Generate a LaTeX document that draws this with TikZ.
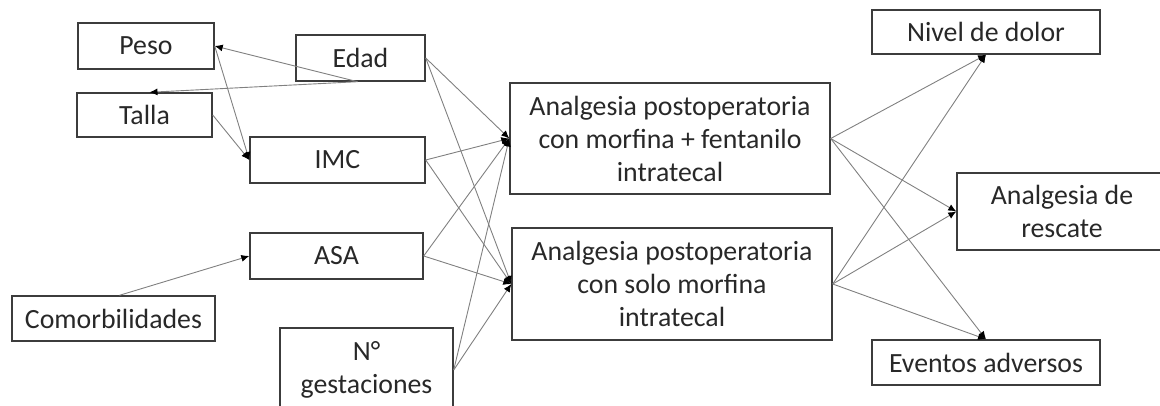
\documentclass[tikz,border=0pt]{standalone}
\usepackage{fontspec}
\setmainfont{Carlito}
\usetikzlibrary{arrows.meta}
\definecolor{boxline}{RGB}{60,60,60}
\definecolor{arrowline}{RGB}{128,128,128}
\definecolor{txt}{RGB}{40,40,40}
\begin{document}
\begin{tikzpicture}[x=1pt, y=-1pt,
    var node/.style={draw=boxline, line width=1.4pt, inner sep=0pt, align=center, text=txt, font=\fontsize{27.8}{33}\selectfont},
    link/.style={draw=arrowline, line width=0.9pt, -{Latex[length=8pt,width=7pt,color=black]}}]

    \useasboundingbox (0,0) rectangle (1160,406);

    % Covariables
    \node[var node, minimum width=136pt, minimum height=46pt] (peso) at (146,46) {Peso};
    \node[var node, minimum width=129pt, minimum height=46pt] (edad) at (360.5,58) {Edad};
    \node[var node, minimum width=135pt, minimum height=44pt] (talla) at (144.5,115) {Talla};
    \node[var node, minimum width=175pt, minimum height=46pt] (imc) at (337.5,160) {IMC};
    \node[var node, minimum width=173pt, minimum height=46pt] (asa) at (336.5,256) {ASA};
    \node[var node, minimum width=203pt, minimum height=45pt] (comorb) at (113.5,318.5) {Comorbilidades};
    \node[var node, minimum width=173pt, minimum height=84pt] (gest) at (366.5,370) {N°\\gestaciones};

    % Exposiciones
    \node[var node, minimum width=320pt, minimum height=111pt] (fent) at (670,138.5) {Analgesia postoperatoria\\con morfina + fentanilo\\intratecal};
    \node[var node, minimum width=320pt, minimum height=112pt] (morf) at (672,284) {Analgesia postoperatoria\\con solo morfina\\intratecal};

    % Desenlaces
    \node[var node, minimum width=228pt, minimum height=44pt] (dolor) at (986,32) {Nivel de dolor};
    \node[var node, minimum width=210pt, minimum height=77pt] (rescate) at (1062,211.5) {Analgesia de\\rescate};
    \node[var node, minimum width=228pt, minimum height=45pt] (eventos) at (986,362.5) {Eventos adversos};

    \draw[link] ([xshift=-3pt]edad.south) -- (peso.east);
    \draw[link] ([xshift=-3pt]edad.south) -- ([xshift=5pt]talla.north);
    \draw[link] (peso.east) -- (imc.west);
    \draw[link] (talla.east) -- (imc.west);
    \draw[link] ([xshift=6pt]comorb.north) -- (asa.west);

    \foreach \src in {edad, imc, asa, gest} {
        \draw[link] (\src.east) -- (fent.west);
        \draw[link] (\src.east) -- (morf.west);
    }

    \foreach \src in {fent, morf} {
        \draw[link] (\src.east) -- (dolor.south);
        \draw[link] (\src.east) -- (rescate.west);
        \draw[link] (\src.east) -- (eventos.north);
    }

\end{tikzpicture}
\end{document}
